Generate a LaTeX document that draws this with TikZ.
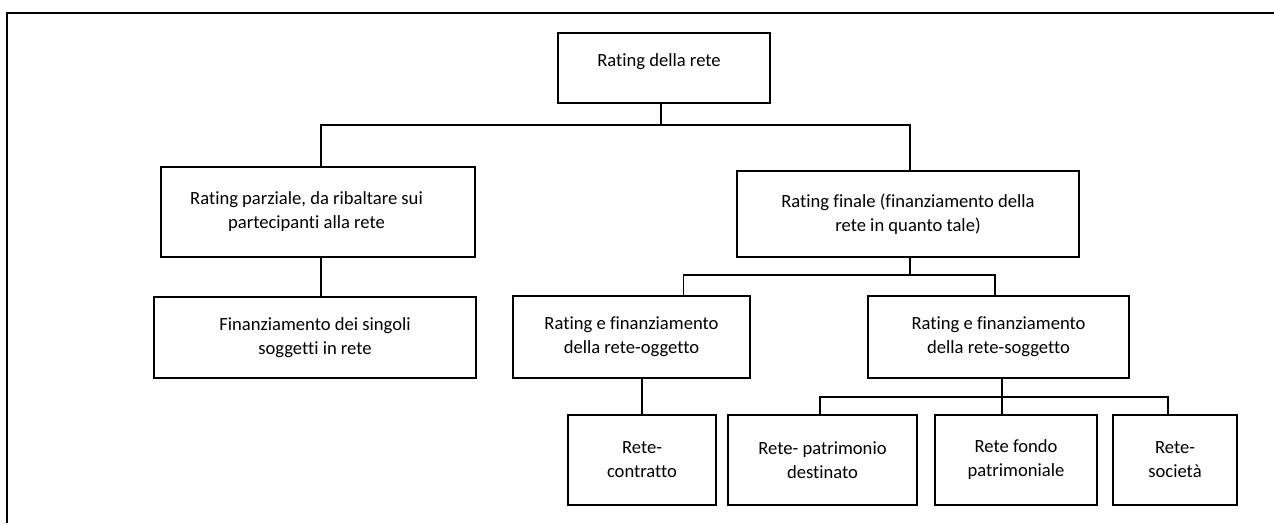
\documentclass[tikz,border=0pt]{standalone}
\usepackage{fontspec}
\setmainfont[Ligatures=NoCommon]{Carlito}
\usetikzlibrary{calc}
\begin{document}
\begin{tikzpicture}[x=1pt,y=-1pt,
  box/.style={draw, line width=1.8pt, inner sep=0pt, font=\fontsize{18.6}{24}\selectfont},
  boxc/.style={box, align=center},
  conn/.style={line width=1.6pt},
  frame/.style={line width=2.6pt}]
\useasboundingbox (0,0) rectangle (1274,523);
\draw[frame] (7,523) -- (7,13) -- (1274,13);
% row 1
\node[box, minimum width=212pt, minimum height=70pt, text depth=16pt] (top) at (664,68) {Rating della rete\kern10pt};
% row 2
\node[box, minimum width=314pt, minimum height=90pt] (parz) at (318,212) {\begin{tabular}{@{}c@{}}Rating parziale, da ribaltare sui\\partecipanti alla rete\end{tabular}\kern23pt};
\node[boxc, minimum width=342pt, minimum height=86pt] (finale) at (908,214) {Rating finale (finanziamento della\\rete in quanto tale)};
% row 3
\node[boxc, minimum width=322pt, minimum height=81pt] (fin) at (315,337.5) {Finanziamento dei singoli\\soggetti in rete};
\node[boxc, minimum width=237pt, minimum height=82pt] (ogg) at (631.5,337) {Rating e finanziamento\\della rete-oggetto};
\node[boxc, minimum width=261pt, minimum height=82pt] (sogg) at (998.5,337) {Rating e finanziamento\\della rete-soggetto};
% row 4
\node[boxc, minimum width=148pt, minimum height=90pt] (contr) at (642,460) {Rete-\\contratto};
\node[boxc, minimum width=189pt, minimum height=90pt] (patr) at (822.5,460) {Rete- patrimonio\\destinato};
\node[boxc, minimum width=162pt, minimum height=90pt] (fondo) at (1016,460) {Rete fondo\\patrimoniale};
\node[boxc, minimum width=124pt, minimum height=90pt] (soc) at (1175,460) {Rete-\\società};
% connectors
\coordinate (b1) at (661,125);
\coordinate (b2) at (910,275);
\coordinate (b3) at (1002,397);
\coordinate (pz) at ($(parz.south)+(3,0)$);
\coordinate (pn) at ($(parz.north)+(3,0)$);
\coordinate (fn) at ($(finale.north)+(2,0)$);
\coordinate (on) at ($(ogg.north west)!0.717!(ogg.north east)$);
\coordinate (sn) at ($(sogg.north)+(-3.5,0)$);
\coordinate (ptn) at ($(patr.north)+(-2.5,0)$);
\coordinate (scn) at ($(soc.north)+(-7,0)$);
\draw[conn] (top.south -| b1) -- (b1);
\draw[conn] (pn) |- (b1) -| (fn);
\draw[conn] (pz) -- (pz |- fin.north);
\draw[conn] (finale.south -| b2) -- (b2);
\draw[conn] (on) |- (b2) -| (sn);
\draw[conn] (contr.north) -- (contr.north |- ogg.south);
\draw[conn] (sogg.south -| b3) -- (b3 |- fondo.north);
\draw[conn] (ptn) |- (b3) -| (scn);
\end{tikzpicture}
\end{document}
